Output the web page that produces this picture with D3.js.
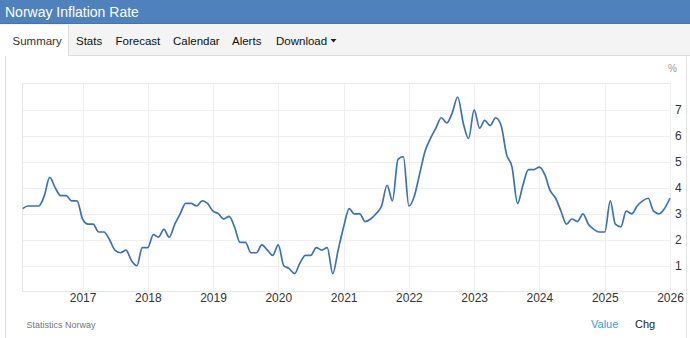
<!DOCTYPE html>
<html>
<head>
<meta charset="utf-8">
<script src="https://cdn.jsdelivr.net/npm/d3@7"></script>
<style>
    body { margin: 0; background: #fff; }
    svg { display: block; font-family: "Liberation Sans", Arial, sans-serif; }
</style>
</head>
<body>
<svg id="chart" width="690" height="338"></svg>
<script>
"use strict";

// First month of the series (plotted on the 1st of each month)
const firstMonth = new Date(2016, 1, 1);

// Monthly CPI inflation, % y/y, Feb 2016 .. Jan 2026
const inflation = [
    3.2, 3.3, 3.3, 3.3, 3.7, 4.4, 4.0, 3.7, 3.7, 3.5, 3.5,
    2.8, 2.6, 2.6, 2.3, 2.3, 2.0, 1.6, 1.5, 1.6, 1.2, 1.0, 1.7,
    1.7, 2.2, 2.1, 2.4, 2.1, 2.6, 3.0, 3.4, 3.4, 3.3, 3.5, 3.4,
    3.1, 3.0, 2.8, 2.9, 2.5, 1.9, 1.9, 1.5, 1.5, 1.8, 1.6, 1.4,
    1.8, 1.0, 0.9, 0.7, 1.1, 1.4, 1.4, 1.7, 1.6, 1.7, 0.7, 1.6,
    2.5, 3.2, 3.0, 3.0, 2.7, 2.8, 3.0, 3.3, 4.1, 3.5, 5.1, 5.2,
    3.3, 3.7, 4.5, 5.4, 5.9, 6.3, 6.7, 6.5, 6.9, 7.5, 6.5, 5.9,
    7.0, 6.3, 6.6, 6.4, 6.7, 6.4, 5.3, 4.8, 3.4, 4.1, 4.7, 4.7,
    4.8, 4.5, 3.9, 3.6, 3.1, 2.6, 2.8, 2.7, 3.0, 2.6, 2.4, 2.3,
    2.3, 3.5, 2.6, 2.5, 3.1, 3.0, 3.3, 3.5, 3.6, 3.1, 3.0, 3.2,
    3.6
];

const yearTicks = [2017, 2018, 2019, 2020, 2021, 2022, 2023, 2024, 2025, 2026];
const valueTicks = [1, 2, 3, 4, 5, 6, 7];
const tabs = ["Summary", "Stats", "Forecast", "Calendar", "Alerts", "Download"];
const tabX = [12.5, 76, 115.5, 173, 232, 276];

const data = inflation.map((v, i) => ({ date: d3.timeMonth.offset(firstMonth, i), value: v }));

const svg = d3.select("#chart");

// Header bar
svg.append("rect").attr("x", 0).attr("y", 0).attr("width", 690).attr("height", 24).attr("fill", "#4f81bd");
svg.append("line").attr("x1", 0).attr("x2", 690).attr("y1", 23.5).attr("y2", 23.5).attr("stroke", "#4274b0");
svg.append("text").attr("x", 5).attr("y", 17).attr("fill", "#fff")
    .style("font-size", "14px").text("Norway Inflation Rate");

// Tab bar
svg.append("rect").attr("x", 0).attr("y", 24).attr("width", 690).attr("height", 32).attr("fill", "#f4f4f4");
svg.append("line").attr("x1", 0).attr("x2", 690).attr("y1", 55.5).attr("y2", 55.5).attr("stroke", "#dddddd");
svg.append("rect").attr("x", 0).attr("y", 25).attr("width", 68.5).attr("height", 32).attr("fill", "#fff");
svg.append("line").attr("x1", 68.5).attr("x2", 68.5).attr("y1", 25).attr("y2", 56).attr("stroke", "#dddddd");

svg.selectAll("text.tab")
    .data(tabs)
    .enter()
    .append("text")
    .attr("class", "tab")
    .attr("x", (d, i) => tabX[i])
    .attr("y", 45)
    .attr("fill", (d, i) => i === 0 ? "#333" : "#111")
    .style("font-size", "11.5px")
    .text((d) => d);

// Download caret
svg.append("path").attr("d", "M330.5,39 L336.5,39 L333.5,42.5 Z").attr("fill", "#222");

// Content panel borders
svg.append("line").attr("x1", 5.5).attr("x2", 5.5).attr("y1", 56).attr("y2", 338).attr("stroke", "#e3e3e3");
svg.append("line").attr("x1", 686.5).attr("x2", 686.5).attr("y1", 56).attr("y2", 338).attr("stroke", "#e3e3e3");

// Plot area
const plotLeft = 22.7, plotRight = 670, plotTop = 84, plotBottom = 291.7;

const x = d3.scaleTime()
    .domain([firstMonth, data[data.length - 1].date])
    .range([plotLeft, plotRight]);
const y = d3.scaleLinear()
    .domain([0, 8])
    .range([plotBottom, plotTop]);

const grid = svg.append("g");
grid.selectAll("line.h")
    .data(valueTicks)
    .enter()
    .append("line")
    .attr("x1", plotLeft).attr("x2", plotRight)
    .attr("y1", (d) => Math.round(y(d)) + 0.5).attr("y2", (d) => Math.round(y(d)) + 0.5)
    .attr("stroke", "#efefef");
grid.selectAll("line.v")
    .data(yearTicks)
    .enter()
    .append("line")
    .attr("x1", (d) => Math.round(x(new Date(d, 0, 1))) + 0.5)
    .attr("x2", (d) => Math.round(x(new Date(d, 0, 1))) + 0.5)
    .attr("y1", plotTop - 1).attr("y2", plotBottom)
    .attr("stroke", "#efefef");

// Plot frame
svg.append("line").attr("x1", plotLeft).attr("x2", plotRight).attr("y1", 83.5).attr("y2", 83.5).attr("stroke", "#eaeaea");
svg.append("line").attr("x1", 22.5).attr("x2", 22.5).attr("y1", 83).attr("y2", plotBottom).attr("stroke", "#e6e6e6");
svg.append("line").attr("x1", plotLeft).attr("x2", plotRight).attr("y1", 291.5).attr("y2", 291.5).attr("stroke", "#e6e6e6");

// Axes labels
const xAxis = svg.append("g")
    .attr("transform", `translate(0,${plotBottom})`)
    .call(d3.axisBottom(x)
        .tickValues(yearTicks.map((d) => new Date(d, 0, 1)))
        .tickFormat(d3.timeFormat("%Y"))
        .tickSize(0)
        .tickPadding(2));
xAxis.select(".domain").remove();
xAxis.selectAll("text").attr("fill", "#333").style("font-size", "12px").style("font-family", null);

const yAxis = svg.append("g")
    .attr("transform", `translate(${plotRight},0)`)
    .call(d3.axisRight(y)
        .tickValues(valueTicks)
        .tickSize(0)
        .tickPadding(5));
yAxis.select(".domain").remove();
yAxis.selectAll("text").attr("fill", "#333").style("font-size", "12px").style("font-family", null);

svg.append("text").attr("x", 668).attr("y", 72).attr("fill", "#999")
    .style("font-size", "10px").text("%");

// Series
const line = d3.line()
    .x((d) => x(d.date))
    .y((d) => y(d.value))
    .curve(d3.curveMonotoneX);

svg.append("path")
    .datum(data)
    .attr("fill", "none")
    .attr("stroke", "#3c71b7")
    .attr("stroke-width", 1.7)
    .attr("d", line);

// Footer
svg.append("text").attr("x", 26.5).attr("y", 328).attr("fill", "#777")
    .style("font-size", "9px").text("Statistics Norway");
svg.append("text").attr("x", 591).attr("y", 328).attr("fill", "#2d9cf0")
    .style("font-size", "11px").text("Value");
svg.append("text").attr("x", 635).attr("y", 328).attr("fill", "#222")
    .style("font-size", "11px").text("Chg");
</script>
</body>
</html>
